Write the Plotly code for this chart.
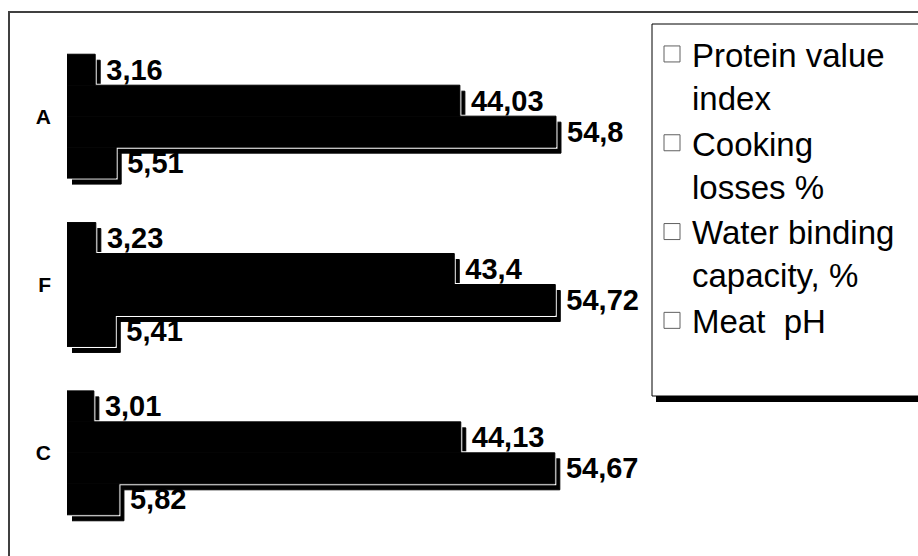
import plotly.graph_objects as go

categories = ["A", "F", "C"]
series_names = ["Protein value<br>index", "Cooking<br>losses %", "Water binding<br>capacity, %", "Meat\u00a0 pH"]
protein = [3.16, 3.23, 3.01]
cooking = [44.03, 43.4, 44.13]
water = [54.8, 54.72, 54.67]
ph = [5.51, 5.41, 5.82]
series_values = [protein, cooking, water, ph]

FONT = "Arial, Liberation Sans, sans-serif"

def fmt(v):
    return "\u00a0" + f"{v}".replace(".", ",")

fig = go.Figure()

# layer 1: shadows (xy), layer 2: white outline (x2y2), layer 3: bars (x3y3)
for vals in series_values:
    fig.add_trace(go.Bar(y=categories, x=vals, orientation="h", xaxis="x", yaxis="y",
                         marker=dict(color="black", line=dict(color="black", width=1)), showlegend=False,
                         hoverinfo="skip"))
for vals in series_values:
    fig.add_trace(go.Bar(y=categories, x=vals, orientation="h", xaxis="x2", yaxis="y2",
                         marker=dict(color="white", line=dict(color="white", width=3)),
                         showlegend=False, hoverinfo="skip"))
for vals in series_values:
    fig.add_trace(go.Bar(y=categories, x=vals, orientation="h", xaxis="x3", yaxis="y3",
                         marker=dict(color="black", line=dict(color="black", width=1)), showlegend=False,
                         text=[fmt(v) for v in vals], textposition="outside",
                         constraintext="none", cliponaxis=False,
                         textfont=dict(family=FONT, size=29, color="black", weight="bold")))

for name in series_names:
    fig.add_trace(go.Scatter(x=[None], y=[None], mode="markers", name=name, xaxis="x3", yaxis="y3",
                             marker=dict(symbol="square", size=16, color="white",
                                         line=dict(color="#606060", width=1))))

W, H = 600.0, 530.0
L, T = 60.0, 20.0

def px(p):
    return (p - L) / W

def py(p):
    return (T + H - p) / H

xr = [0, 65]
yr = [2.5, -0.5]
dom_main_x = [px(67), px(647)]
dom_main_y = [py(537), py(32)]
dom_sh_x = [px(72), px(652)]
dom_sh_y = [py(543), py(38)]

hidden_x = dict(range=xr, visible=False, fixedrange=True)
common_y = dict(type="category", categoryorder="array", categoryarray=categories, range=yr,
                showgrid=False, zeroline=False, showline=False, ticks="")

fig.update_layout(
    width=918, height=556,
    margin=dict(l=L, r=918 - L - W, t=T, b=556 - T - H, autoexpand=False),
    paper_bgcolor="white", plot_bgcolor="rgba(0,0,0,0)",
    barmode="group", bargap=0.264, bargroupgap=0,
    xaxis=dict(hidden_x, domain=dom_sh_x, anchor="y"),
    yaxis=dict(common_y, domain=dom_sh_y, anchor="x", showticklabels=False),
    xaxis2=dict(hidden_x, domain=dom_main_x, anchor="y2"),
    yaxis2=dict(common_y, domain=dom_main_y, anchor="x2", showticklabels=False),
    xaxis3=dict(hidden_x, domain=dom_main_x, anchor="y3"),
    yaxis3=dict(common_y, domain=dom_main_y, anchor="x3", showticklabels=True,
                ticklabelstandoff=15,
                tickfont=dict(family=FONT, size=21, color="black", weight="bold")),
    showlegend=True,
    legend=dict(x=px(652), y=py(26), xanchor="left", yanchor="top",
                bgcolor="rgba(0,0,0,0)", borderwidth=0, valign="top",
                font=dict(family=FONT, size=33, color="black"), traceorder="normal"),
    shapes=[
        dict(type="rect", xref="paper", yref="paper", x0=px(9), x1=px(935), y0=py(12), y1=py(575),
             line=dict(color="#404040", width=2), fillcolor="rgba(0,0,0,0)", layer="below"),
        dict(type="rect", xref="paper", yref="paper", x0=px(656), x1=px(940), y0=py(30), y1=py(402),
             line=dict(width=0), fillcolor="black"),
        dict(type="rect", xref="paper", yref="paper", x0=px(652), x1=px(935), y0=py(24), y1=py(396),
             line=dict(color="black", width=1), fillcolor="white"),
    ],
)

fig.write_html("out.html")
